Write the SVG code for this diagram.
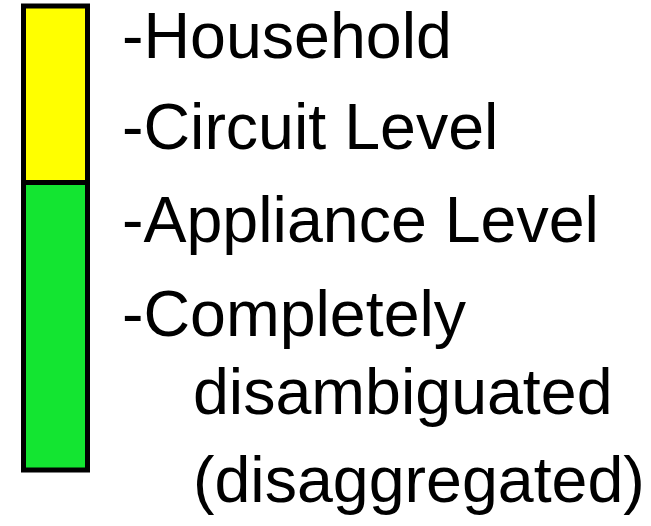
<svg xmlns="http://www.w3.org/2000/svg" width="651" height="526" viewBox="0 0 651 526">
  <style>
    .lbl { font-family: "Liberation Sans", Arial, sans-serif; font-size: 64.5px; fill: #000; }
    .seg { stroke: #000; stroke-width: 5; }
  </style>
  <rect width="651" height="526" fill="#fff"/>
  <!-- level bar: yellow upper band, green lower band -->
  <g id="bar">
    <rect class="seg" x="23.5" y="6" width="64" height="176.5" fill="#ffff00"/>
    <rect class="seg" x="23.5" y="182.5" width="64" height="287.5" fill="#13e531"/>
  </g>
  <g id="labels">
    <text class="lbl" x="122" y="58">-Household</text>
    <text class="lbl" x="122" y="149">-Circuit Level</text>
    <text class="lbl" x="122" y="242">-Appliance Level</text>
    <text class="lbl" x="122" y="336">-Completely</text>
    <text class="lbl" x="193" y="414">disambiguated</text>
    <text class="lbl" x="193" y="502">(disaggregated)</text>
  </g>
</svg>
